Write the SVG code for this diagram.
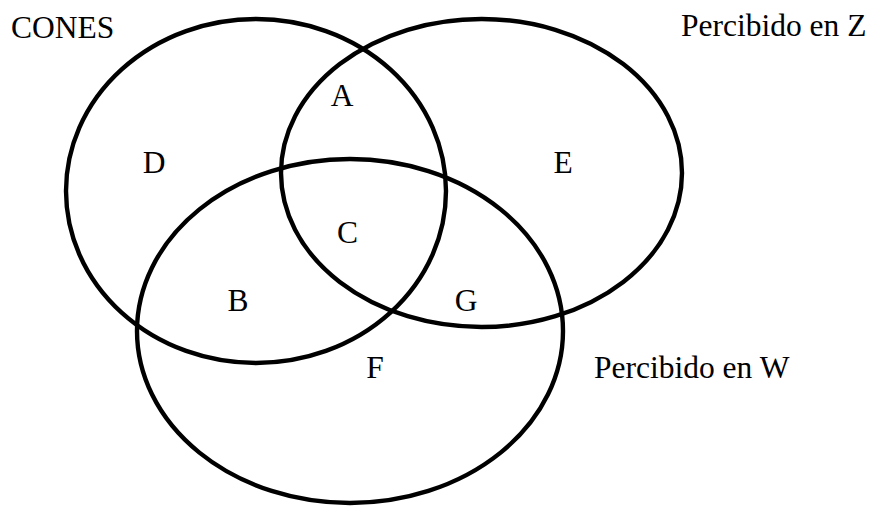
<svg xmlns="http://www.w3.org/2000/svg" width="870" height="506" viewBox="0 0 870 506">
<style>
.set{fill:none;stroke:#000;stroke-width:4.4}
.t{font-family:"Liberation Serif","Times New Roman",serif;font-size:31.5px;fill:#000}
.m{text-anchor:middle}
</style>
<rect width="870" height="506" fill="#fff"/>
<g id="set-cones">
<ellipse class="set" cx="256" cy="191" rx="190" ry="172"/>
<text class="t" x="11" y="38">CONES</text>
</g>
<g id="set-z">
<ellipse class="set" cx="481.5" cy="173" rx="200.5" ry="154"/>
<text class="t" x="681" y="36">Percibido en Z</text>
</g>
<g id="set-w">
<ellipse class="set" cx="350" cy="331" rx="213" ry="172"/>
<text class="t" x="594" y="378">Percibido en W</text>
</g>
<g id="regions">
<text class="t m" x="342" y="106">A</text>
<text class="t m" x="154" y="173">D</text>
<text class="t m" x="563" y="173">E</text>
<text class="t m" x="347.5" y="243">C</text>
<text class="t m" x="238" y="311">B</text>
<text class="t m" x="466" y="311">G</text>
<text class="t m" x="375" y="378">F</text>
</g>
<g id="connectors"></g>
</svg>
